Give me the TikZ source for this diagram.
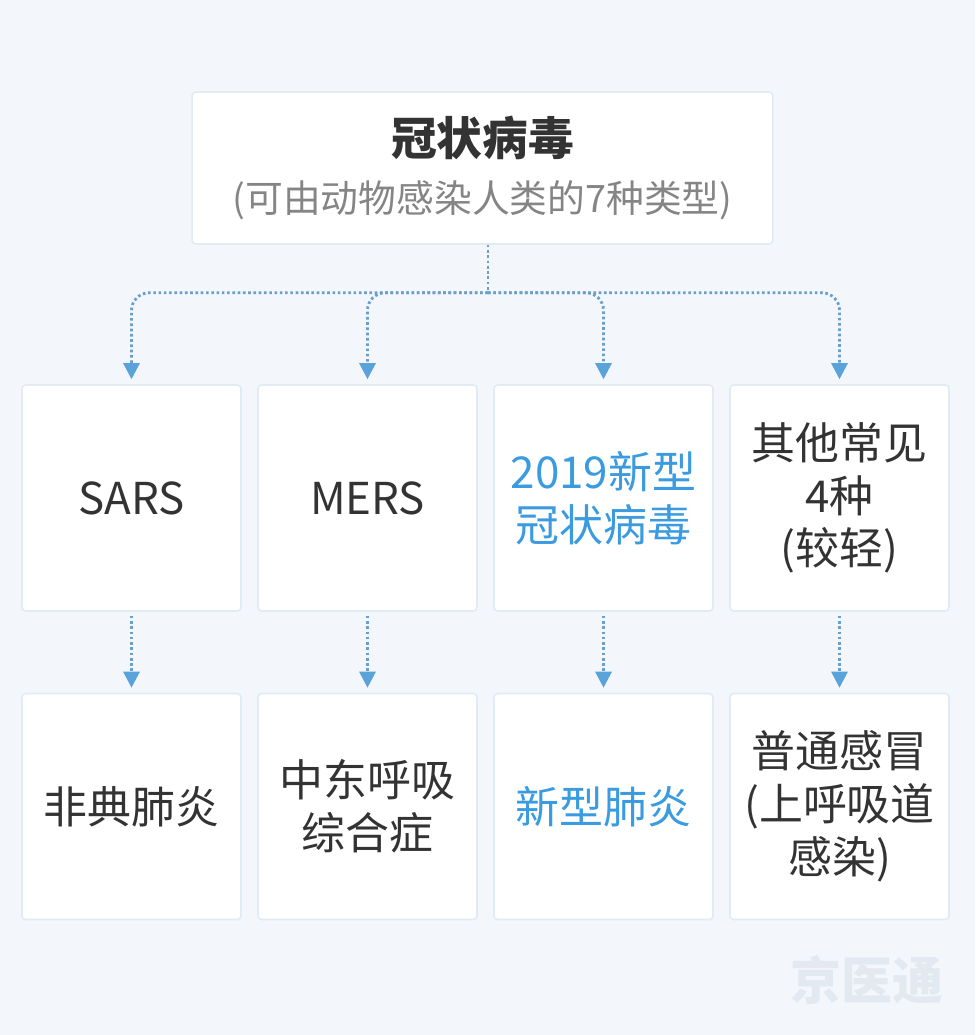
\documentclass[tikz,border=0pt]{standalone}
\usepackage{fontspec}
\setmainfont{Noto Sans CJK SC}
\usepackage{tikz}
\usetikzlibrary{arrows.meta,calc,positioning}
\definecolor{pagebg}{HTML}{F3F7FB}
\definecolor{boxline}{HTML}{E1EBF4}
\definecolor{linkblue}{HTML}{6A9FCB}
\definecolor{tipblue}{HTML}{5AA3DA}
\definecolor{txtdark}{HTML}{333333}
\definecolor{txtgray}{HTML}{858585}
\definecolor{txtblue}{HTML}{3A9BE0}
\definecolor{markgray}{HTML}{E3E9F0}
\tikzset{card/.style={
    draw=boxline, fill=white, line width=0.9pt,
    rounded corners=2pt,
    minimum width=#1, minimum height=4.52cm,
    align=center, inner sep=0pt,
    text=txtdark,
    font=\fontsize{25}{30}\selectfont
  },
  card/.default=4.38cm,
  link/.style={
    draw=linkblue, line width=1.6pt,
    dash pattern=on 1.5pt off 1.5pt
  },
  tipped/.style={link,
    -{Triangle[width=0.32cm,length=0.32cm,fill=tipblue,color=tipblue,sep=0pt]},
    shorten >=0.1cm
  }
}

\begin{document}
\begin{tikzpicture}[x=0.02cm,y=-0.02cm]
    \fill[pagebg] (0,0) rectangle (975,1035);
    \useasboundingbox (0,0) rectangle (975,1035);
    % top
    \node[card=11.62cm, minimum height=3.04cm] (top) at (482.5,168)
        {{\bfseries\fontsize{26}{30}\selectfont 冠状病毒}\\[2pt]
         {\color{txtgray}\fontsize{21.5}{26}\selectfont (可由动物感染人类的7种类型)}};
    % row one
    \node[card] (sars)  at (131.5,498) {SARS};
    \node[card] (mers)  at (367.5,498) {MERS};
    \node[card, text=txtblue] (ncov)  at (603.5,498) {2019新型\\冠状病毒};
    \node[card] (other) at (839.5,498) {其他常见\\4种\\(较轻)};
    % row two
    \node[card] (sarsd)  at (131.5,806.5) {非典肺炎};
    \node[card] (mersd)  at (367.5,806.5) {中东呼吸\\综合症};
    \node[card, text=txtblue] (ncovd)  at (603.5,806.5) {新型肺炎};
    \node[card] (otherd) at (839.5,806.5) {普通感冒\\(上呼吸道\\感染)};
    % links
    \coordinate (hub) at ($(top.south)+(5.5,48)$);
    \draw[link] (top.south -| hub) -- (hub);
    \foreach \n in {sars,mers,ncov,other}{
        \draw[tipped, rounded corners=10pt] (hub) -| (\n.north);
        \draw[tipped, shorten <=0.08cm] (\n.south) -- (\n d.north);
    }
    \node[text=markgray, font=\bfseries\fontsize{29}{30}\selectfont] (mark) at (867,980) {京医通};
\end{tikzpicture}
\end{document}
